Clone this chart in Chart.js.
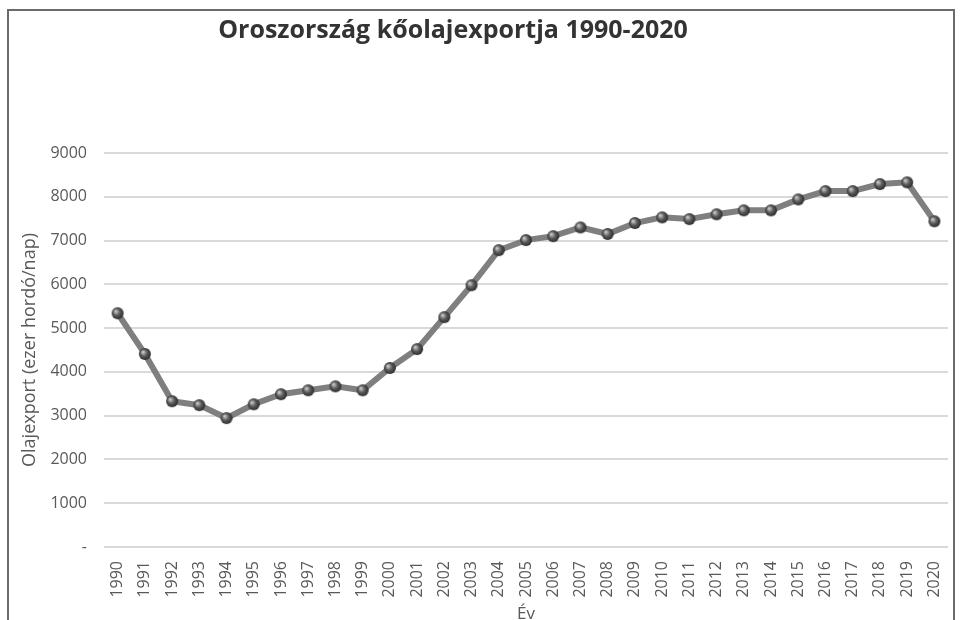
<!DOCTYPE html>
<html>
<head>
<meta charset="utf-8">
<script src="https://cdn.jsdelivr.net/npm/chart.js@4"></script>
<style>
  body { margin: 0; background: #fff; overflow: hidden; }
  #wrap { position: absolute; left: 0; top: 0; width: 960px; height: 620px; }
  #frame { position: absolute; left: 7px; top: 9px; width: 944px; height: 640px; border: 2px solid #6b6b6b; }
</style>
</head>
<body>
<div id="frame"></div>
<div id="wrap"><canvas id="chart" width="960" height="620"></canvas></div>
<script>
// years on the x axis
const years = ['1990','1991','1992','1993','1994','1995','1996','1997','1998','1999',
  '2000','2001','2002','2003','2004','2005','2006','2007','2008','2009',
  '2010','2011','2012','2013','2014','2015','2016','2017','2018','2019','2020'];

// oil export, thousand barrels/day
const exportValues = [5340, 4410, 3330, 3240, 2945, 3260, 3490, 3580, 3670, 3580,
  4090, 4520, 5250, 5980, 6780, 7010, 7100, 7300, 7150, 7400,
  7530, 7490, 7600, 7690, 7690, 7940, 8130, 8130, 8290, 8330, 7440];

const yTicks = [0, 1000, 2000, 3000, 4000, 5000, 6000, 7000, 8000, 9000];

const chartTitle = 'Oroszország kőolajexportja 1990-2020';
const fontFam = '"Open Sans", sans-serif';

// little shaded ball used for the markers
function makeBall(r) {
    const c = document.createElement('canvas');
    c.width = c.height = r * 2 + 2;
    const g = c.getContext('2d');
    const grad = g.createRadialGradient(r - 1, r - 1, 0.5, r + 1, r + 1, r + 1);
    grad.addColorStop(0, '#c8c8c8');
    grad.addColorStop(0.45, '#5a5a5a');
    grad.addColorStop(1, '#202020');
    g.fillStyle = grad;
    g.beginPath();
    g.arc(r + 1, r + 1, r, 0, Math.PI * 2);
    g.fill();
    return c;
}

// title is not centred on the canvas in the original, so draw it here
const titlePlugin = {
    id: 'offTitle',
    afterDraw(chart) {
        const c = chart.ctx;
        c.save();
        c.font = 'bold 25px ' + fontFam;
        c.fillStyle = '#333333';
        c.textAlign = 'center';
        c.textBaseline = 'middle';
        c.fillText(chartTitle, 453, 31);
        c.restore();
    }
};

const ctx = document.getElementById('chart').getContext('2d');
new Chart(ctx, {
    type: 'line',
    data: {
        labels: years,
        datasets: [{
            label: 'Olajexport',
            data: exportValues,
            borderColor: '#7f7f7f',
            borderWidth: 6,
            tension: 0,
            pointStyle: makeBall(6),
            pointRadius: 6,
            pointHoverRadius: 6
        }]
    },
    plugins: [titlePlugin],
    options: {
        responsive: false,
        animation: false,
        layout: { padding: { left: 0, right: 9, top: 153, bottom: 0 } },
        plugins: {
            legend: { display: false },
            tooltip: { enabled: false }
        },
        scales: {
            x: {
                offset: true,
                grid: { display: false },
                border: { display: false },
                ticks: {
                    color: '#595959',
                    font: { family: fontFam, size: 16 },
                    minRotation: 90,
                    maxRotation: 90,
                    autoSkip: false,
                    padding: 6
                },
                title: {
                    display: true,
                    text: 'Év',
                    color: '#595959',
                    font: { family: fontFam, size: 17 },
                    padding: { top: 0, bottom: -4 }
                },
                afterFit: (s) => { s.height = 73; }
            },
            y: {
                min: 0,
                max: 9000,
                afterBuildTicks: (s) => { s.ticks = yTicks.map(v => ({ value: v })); },
                grid: { color: '#d9d9d9', lineWidth: 2, drawTicks: false },
                border: { display: false },
                ticks: {
                    color: '#595959',
                    font: { family: fontFam, size: 16 },
                    padding: 17,
                    callback: (v) => v === 0 ? '-' : v
                },
                title: {
                    display: true,
                    text: 'Olajexport (ezer hordó/nap)',
                    color: '#595959',
                    font: { family: fontFam, size: 18 },
                    padding: { top: 19, bottom: 0 }
                },
                afterFit: (s) => { s.width = 104; }
            }
        }
    }
});
</script>
</body>
</html>
